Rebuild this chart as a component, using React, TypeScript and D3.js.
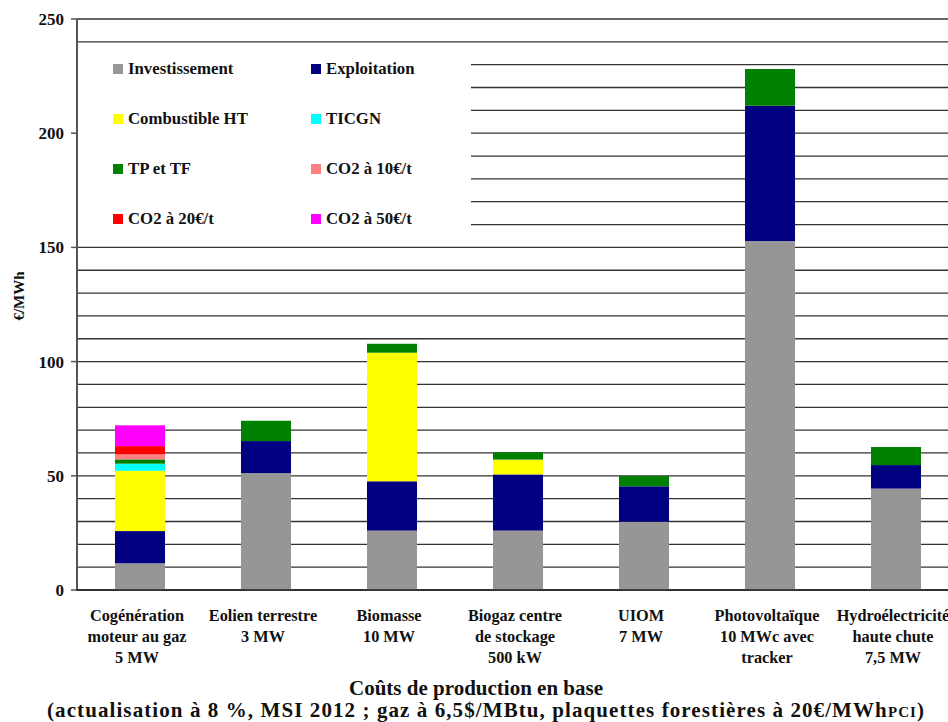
import React from "react";
import * as d3 from "d3";

const categories: string[][] = [
  ["Cogénération", "moteur au gaz", "5 MW"],
  ["Eolien terrestre", "3 MW"],
  ["Biomasse", "10 MW"],
  ["Biogaz centre", "de stockage", "500 kW"],
  ["UIOM", "7 MW"],
  ["Photovoltaïque", "10 MWc avec", "tracker"],
  ["Hydroélectricité", "haute chute", "7,5 MW"],
];

const investissement = [11.7, 51.2, 26.0, 26.0, 29.9, 152.8, 44.4];
const exploitation = [14.1, 14.0, 21.6, 24.6, 15.5, 59.2, 10.3];
const combustible = [26.4, 0, 56.3, 6.5, 0, 0, 0];
const ticgn = [3.1, 0, 0, 0, 0, 0, 0];
const tptf = [1.9, 8.9, 3.9, 3.2, 4.5, 16.1, 7.9];
const co2_10 = [2.2, 0, 0, 0, 0, 0, 0];
const co2_20 = [3.6, 0, 0, 0, 0, 0, 0];
const co2_50 = [9.1, 0, 0, 0, 0, 0, 0];

const seriesNames = [
  "Investissement",
  "Exploitation",
  "Combustible HT",
  "TICGN",
  "TP et TF",
  "CO2 à 10€/t",
  "CO2 à 20€/t",
  "CO2 à 50€/t",
];
const seriesColors = [
  "#969696",
  "#000080",
  "#ffff00",
  "#00ffff",
  "#008000",
  "#ff8080",
  "#ff0000",
  "#ff00ff",
];
const seriesValues = [investissement, exploitation, combustible, ticgn, tptf, co2_10, co2_20, co2_50];

const yTicks = [0, 50, 100, 150, 200, 250];
const yGrid = d3.range(0, 251, 10);

const FONT = '"Liberation Serif", "DejaVu Serif", "Times New Roman", serif';

export default function App() {
  const x = d3
    .scaleBand<number>()
    .domain(d3.range(categories.length))
    .range([77, 959])
    .paddingInner(0.603)
    .paddingOuter(0.3015);
  const y = d3.scaleLinear().domain([0, 250]).range([590, 19]);

  const rows = categories.map((_, i) => {
    const r: Record<string, number> = {};
    seriesNames.forEach((s, k) => (r[s] = seriesValues[k][i]));
    return r;
  });
  const stack = d3.stack<Record<string, number>>().keys(seriesNames)(rows);

  return (
    <svg
      width={948}
      height={722}
      style={{ position: "absolute", left: 0, top: 0, background: "#fff", fontFamily: FONT, fontWeight: "bold" }}
    >
      {/* gridlines */}
      {yGrid.map((v) => (
        <line key={v} x1={77} x2={948} y1={y(v)} y2={y(v)} stroke="#333" strokeWidth={1.3} />
      ))}
      {/* legend background */}
      <rect x={78} y={44} width={393} height={198} fill="#fff" />
      {seriesNames.map((s, k) => {
        const col = k % 2;
        const row = Math.floor(k / 2);
        const lx = col === 0 ? 113 : 311;
        const ly = 68 + row * 50;
        return (
          <g key={s}>
            <rect x={lx} y={ly - 4} width={10} height={10} fill={seriesColors[k]} />
            <text x={lx + 15} y={ly + 6} fontSize={16.8} fill="#111" style={{ fontFamily: FONT }}>
              {s}
            </text>
          </g>
        );
      })}
      {/* bars */}
      {stack.map((layer, k) => (
        <g key={layer.key} fill={seriesColors[k]}>
          {layer.map((d, i) =>
            d[1] - d[0] > 0 ? (
              <rect key={i} x={x(i)} width={x.bandwidth()} y={y(d[1])} height={y(d[0]) - y(d[1])} />
            ) : null
          )}
        </g>
      ))}
      {/* axes */}
      <line x1={77} x2={77} y1={y(250)} y2={y(0)} stroke="#555" strokeWidth={2} />
      <line x1={76} x2={948} y1={y(0)} y2={y(0)} stroke="#222" strokeWidth={1.5} />
      {yTicks.map((v) => (
        <g key={v}>
          <line x1={71} x2={77} y1={y(v)} y2={y(v)} stroke="#555" strokeWidth={1.5} />
          <text x={64} y={y(v) + 6} fontSize={17} textAnchor="end" fill="#111" style={{ fontFamily: FONT }}>
            {v}
          </text>
        </g>
      ))}
      <text
        transform={`translate(24,296) rotate(-90)`}
        fontSize={15}
        textAnchor="middle"
        fill="#111"
        style={{ fontFamily: FONT }}
      >
        €/MWh
      </text>
      {/* x labels */}
      {categories.map((lines, i) => (
        <text key={i} textAnchor="middle" fontSize={16.3} fill="#111" style={{ fontFamily: FONT }}>
          {lines.map((l, j) => (
            <tspan key={j} x={(x(i) as number) + x.bandwidth() / 2 - 3} y={621 + j * 21}>
              {l}
            </tspan>
          ))}
        </text>
      ))}
      <text x={476} y={695} fontSize={21} textAnchor="middle" fill="#111" style={{ fontFamily: FONT }}>
        Coûts de production en base
      </text>
      <text
        x={47}
        y={717}
        fontSize={21}
        fill="#111"
        textLength={877}
        lengthAdjust="spacing"
        style={{ fontFamily: FONT }}
      >
        (actualisation à 8 %, MSI 2012 ; gaz à 6,5$/MBtu, plaquettes forestières à 20€/MWh
        <tspan fontSize={15}>PCI</tspan>)
      </text>
    </svg>
  );
}
